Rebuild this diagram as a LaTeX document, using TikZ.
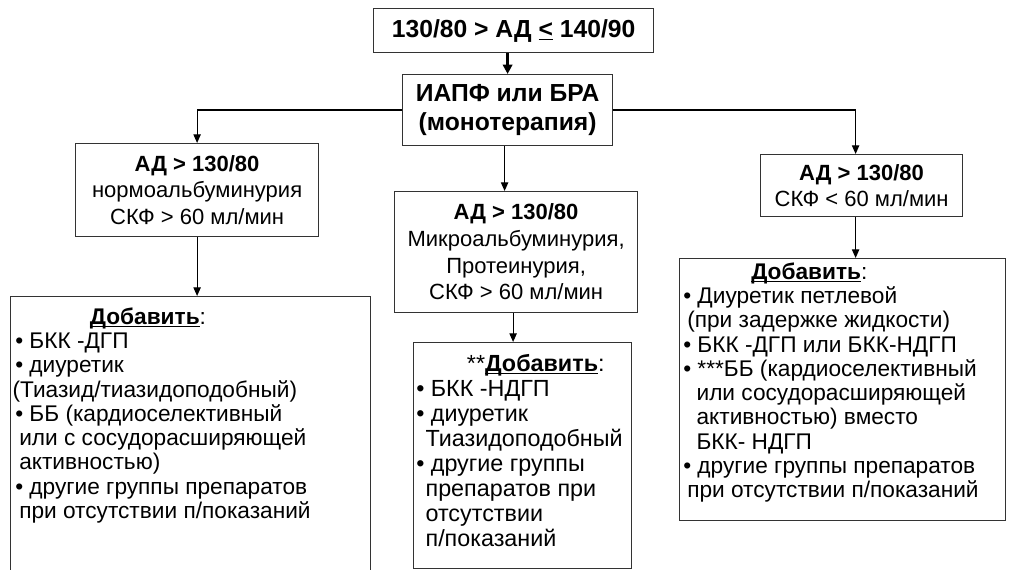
\documentclass[tikz,border=0pt]{standalone}
\usepackage{fontspec}
\setmainfont{Liberation Sans}
\usetikzlibrary{arrows.meta}
% underline drawn just below the baseline, ignoring descenders
\newcommand\ulword[1]{\underline{\smash{#1}}}
\begin{document}
\begin{tikzpicture}[x=0.75pt,y=-0.75pt,
  box/.style={draw=black!80, line width=0.9pt, inner sep=0pt, anchor=north west, align=center},
  link/.style={line width=0.9pt, draw=black, -{Triangle[length=6.5pt,width=5.5pt]}},
  biglink/.style={line width=2.2pt, draw=black, -{Triangle[length=7pt,width=7pt]}},
  headfont/.style={font=\fontsize{18.5}{22}\selectfont\bfseries},
  condfont/.style={font=\fontsize{16.5}{20}\selectfont},
  listtext/.style={anchor=north west, inner sep=0pt, align=left, font=\fontsize{17}{18.2}\selectfont},
]
\clip (0,0) rectangle (1009,570);
\useasboundingbox (0,0) rectangle (1009,570);

% stage 1: blood pressure range and first-line drugs
\node[box, headfont, minimum width=280*0.75pt, minimum height=44*0.75pt] (top) at (373,8)
  {130/80 > АД \ulword{<} 140/90};
\node[box, headfont, minimum width=210*0.75pt, minimum height=71*0.75pt] (iapf) at (402,74)
  {ИАПФ или БРА\\(монотерапия)};

% stage 2: patient groups
\node[box, condfont, minimum width=243*0.75pt, minimum height=93*0.75pt] (lad) at (75,143)
  {\textbf{АД > 130/80}\\нормоальбуминурия\\СКФ > 60 мл/мин};
\node[box, condfont, minimum width=243*0.75pt, minimum height=121*0.75pt] (mad) at (394,191)
  {\textbf{АД > 130/80}\\Микроальбуминурия,\\Протеинурия,\\СКФ > 60 мл/мин};
\node[box, condfont, minimum width=202*0.75pt, minimum height=62*0.75pt] (rad) at (760,154)
  {\textbf{АД > 130/80}\\СКФ < 60 мл/мин};

% stage 3: add-on therapy (the left box runs off the lower edge)
\node[box, minimum width=360*0.75pt, minimum height=320*0.75pt] (lb) at (10,296) {};
\node[box, minimum width=218*0.75pt, minimum height=226*0.75pt] (mb) at (413,342) {};
\node[box, minimum width=326*0.75pt, minimum height=262*0.75pt] (rb) at (679,258) {};

\node[listtext] (lbtext) at (15,312)
  {\hspace*{56pt}\textbf{\ulword{Добавить}}:\\
   • БКК -ДГП\\
   • диуретик\\
   \hspace*{-2pt}(Тиазид/тиазидоподобный)\\
   • ББ (кардиоселективный\\
   \hspace*{3pt}или с сосудорасширяющей\\
   \hspace*{3pt}активностью)\\
   • другие группы препаратов\\
   \hspace*{3pt}при отсутствии п/показаний};
\node[listtext, font=\fontsize{17.5}{18.8}\selectfont] (mbtext) at (416,355)
  {\hspace*{38pt}**\textbf{\ulword{Добавить}}:\\
   • БКК -НДГП\\
   • диуретик\\
   \hspace*{7pt}Тиазидоподобный\\
   • другие группы\\
   \hspace*{7pt}препаратов при\\
   \hspace*{7pt}отсутствии\\
   \hspace*{7pt}п/показаний};
\node[listtext] (rbtext) at (683,267)
  {\hspace*{51pt}\textbf{\ulword{Добавить}}:\\
   • Диуретик петлевой\\
   \hspace*{3pt}(при задержке жидкости)\\
   • БКК -ДГП или БКК-НДГП\\
   • ***ББ (кардиоселективный\\
   \hspace*{10pt}или сосудорасширяющей\\
   \hspace*{10pt}активностью) вместо\\
   \hspace*{10pt}БКК- НДГП\\
   • другие группы препаратов\\
   \hspace*{3pt}при отсутствии п/показаний};

% connectors
\draw[biglink] (iapf.north |- top.south) -- (iapf.north);
\draw[link] (iapf.west) -| (lad.north);
\draw[link] (iapf.east) -| ([xshift=-6*0.75pt]rad.north);
\draw[link] ([xshift=-3*0.75pt]iapf.south) -- ([xshift=-3*0.75pt]iapf.south |- mad.north);
\draw[link] (lad.south) -- (lad.south |- lb.north);
\draw[link] ([xshift=-3*0.75pt]mad.south) -- ([xshift=-3*0.75pt]mad.south |- mb.north);
\draw[link] ([xshift=-6*0.75pt]rad.south) -- ([xshift=-6*0.75pt]rad.south |- rb.north);
\end{tikzpicture}
\end{document}
